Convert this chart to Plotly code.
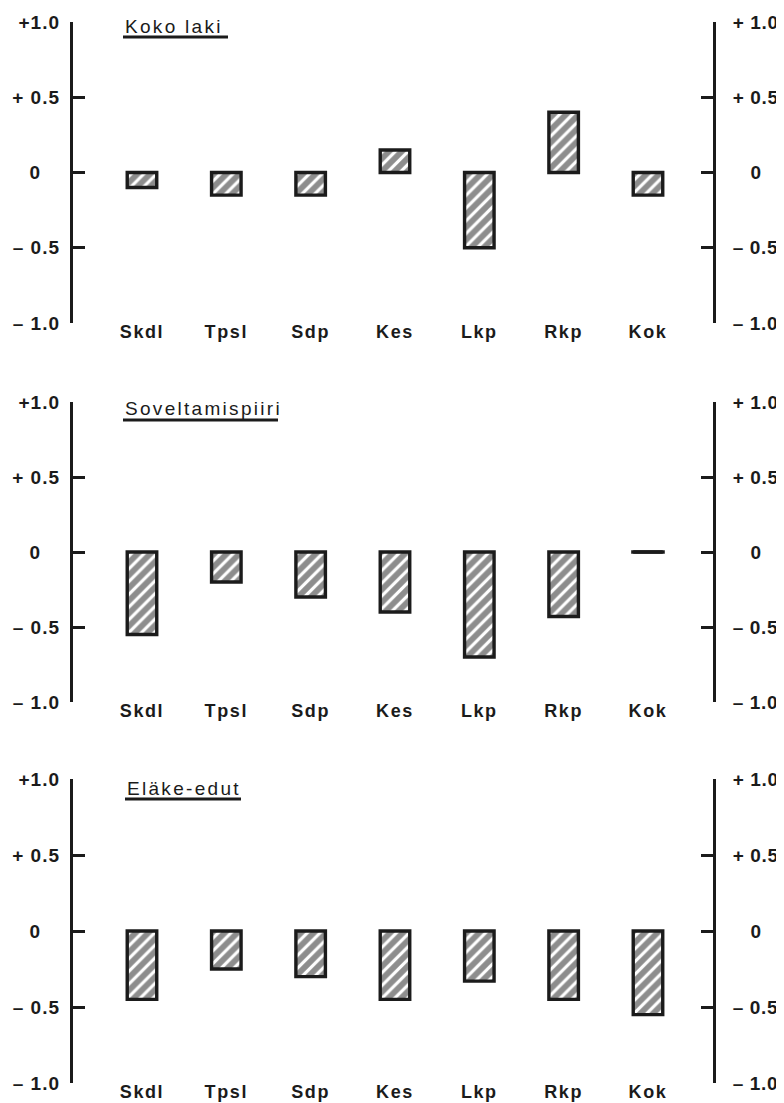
import plotly.graph_objects as go

# ---- data ----
categories = ["Skdl", "Tpsl", "Sdp", "Kes", "Lkp", "Rkp", "Kok"]
koko_laki = [-0.10, -0.15, -0.15, 0.15, -0.50, 0.40, -0.15]
soveltamispiiri = [-0.55, -0.20, -0.30, -0.40, -0.70, -0.43, 0.0]
elake_edut = [-0.45, -0.25, -0.30, -0.45, -0.33, -0.45, -0.55]
panel_titles = ["Koko laki", "Soveltamispiiri", "Eläke-edut"]
tick_values = [1.0, 0.5, 0.0, -0.5, -1.0]
left_tick_labels = ["+1.0", "+ 0.5", "0\u00a0\u00a0\u00a0", "\u2013 0.5", "\u2013 1.0"]
right_tick_labels = ["+ 1.0", "+ 0.5", "\u00a0\u00a0\u00a00", "\u2013 0.5", "\u2013 1.0"]

# ---- layout geometry (page pixels; the page body adds an 8px offset) ----
OFF = 8
W, H = 784 - OFF, 1103 - OFF
ink = "#1b1b1b"
FONT = "Liberation Sans"
panel_px = [(22, 323), (402, 702), (779, 1083)]      # (+1.0 line, -1.0 line)
title_px = [(123, 26, 228, 37), (123, 408, 278, 420), (125, 788, 241, 799)]


def px_x(p):
    return (p - OFF) / W


def px_y(p):
    return 1 - (p - OFF) / H


x_dom = [px_x(73), px_x(713)]
x_rng = [-0.818, 6.771]


def sp(t, ls):
    return f'<span style="letter-spacing:{ls}px">{t}</span>'


series = [koko_laki, soveltamispiiri, elake_edut]
fig = go.Figure()
layout = dict(
    width=W, height=H, margin=dict(l=0, r=0, t=0, b=0, autoexpand=False),
    paper_bgcolor="white", plot_bgcolor="rgba(0,0,0,0)", showlegend=False,
    annotations=[], shapes=[],
)

for i, vals in enumerate(series):
    n = "" if i == 0 else str(i + 1)
    xa, ya, yr = "x" + n, "y" + n, "y" + str(i + 4)
    fig.add_trace(go.Bar(
        x=categories, y=vals, xaxis=xa, yaxis=ya, width=0.35,
        marker=dict(color="white", line=dict(color=ink, width=3.4),
                    pattern=dict(shape="/", fgcolor=ink, bgcolor="white",
                                 size=9, solidity=0.65)),
        hoverinfo="skip"))
    zc = [c for c, v in zip(categories, vals) if v == 0]
    zv = [v for v in vals if v == 0]
    if zc:
        fig.add_trace(go.Scatter(
            x=zc, y=zv, xaxis=xa, yaxis=ya, mode="markers",
            marker=dict(symbol="line-ew", size=24, line=dict(color=ink, width=3.5)),
            hoverinfo="skip"))
    fig.add_trace(go.Scatter(x=[], y=[], xaxis=xa, yaxis=yr, hoverinfo="skip"))

    top, bot = panel_px[i]
    ydom = [px_y(bot), px_y(top)]
    layout["xaxis" + n] = dict(
        domain=x_dom, range=x_rng, type="category", anchor=ya,
        showline=False, showgrid=False, zeroline=False, ticks="",
        tickmode="array", tickvals=categories,
        ticktext=[sp(c, 1.6) for c in categories],
        tickfont=dict(family=FONT, size=18, color=ink, weight="bold"),
        ticklabelstandoff=-4, fixedrange=True, automargin=False)
    common_y = dict(
        range=[-1, 1], tickmode="array", tickvals=tick_values,
        showgrid=False, zeroline=False, fixedrange=True, automargin=False,
        tickfont=dict(family=FONT, size=19, color=ink, weight="bold"))
    layout["yaxis" + n] = dict(
        domain=ydom, anchor=xa, side="left",
        showline=False, ticks="",
        ticktext=[sp(t, 1.0) for t in left_tick_labels],
        ticklabelstandoff=12, **common_y)
    layout["yaxis" + str(i + 4)] = dict(
        overlaying=ya, anchor=xa, side="right",
        showline=True, linewidth=3, linecolor=ink, mirror="ticks",
        ticks="inside", ticklen=12, tickwidth=3, tickcolor=ink,
        ticktext=[sp(t, 0.6) for t in right_tick_labels],
        ticklabelstandoff=13, **common_y)

    tx0, ty, tx1, uy = title_px[i]
    layout["annotations"].append(dict(
        text=sp(panel_titles[i], 2.3), xref="paper", yref="paper",
        x=px_x(tx0), y=px_y(ty), xanchor="left", yanchor="middle",
        showarrow=False, font=dict(family=FONT, size=19, color=ink)))
    layout["shapes"].append(dict(
        type="line", xref="paper", yref="paper",
        x0=px_x(tx0), x1=px_x(tx1), y0=px_y(uy), y1=px_y(uy),
        line=dict(color=ink, width=3.2)))

fig.update_layout(**layout)
fig.write_html("out.html")
